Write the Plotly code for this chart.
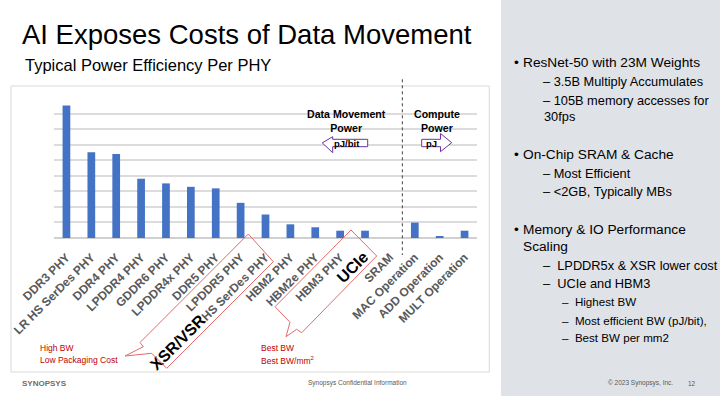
import plotly.graph_objects as go

# ---------------- data ----------------
categories = ["DDR3 PHY", "LR HS SerDes PHY", "DDR4 PHY", "LPDDR4 PHY", "GDDR6 PHY",
              "LPDDR4x PHY", "DDR5 PHY", "LPDDR5 PHY", "XSR/VSR HS SerDes PHY",
              "HBM2 PHY", "HBM2e PHY", "HBM3 PHY", "UCIe", "SRAM",
              "MAC Operation", "ADD Operation", "MULT Operation"]
values = [8.52, 5.51, 5.40, 3.81, 3.51, 3.29, 3.19, 2.26, 1.51,
          0.88, 0.69, 0.47, 0.47, 0.0, 0.99, 0.07, 0.47]
tick_labels = ["DDR3 PHY", "LR HS SerDes PHY", "DDR4 PHY", "LPDDR4 PHY", "GDDR6 PHY",
               "LPDDR4x PHY", "DDR5 PHY", "LPDDR5 PHY",
               "<span style='font-size:16px;color:#000000'>XSR/VSR</span>HS SerDes PHY",
               "HBM2 PHY", "HBM2e PHY", "HBM3 PHY",
               "<span style='font-size:16px;color:#000000'>UCIe</span>", "SRAM",
               "MAC Operation", "ADD Operation", "MULT Operation"]

bullets = [
    (1, "ResNet-50 with 23M Weights", 62.3),
    (2, "– 3.5B Multiply Accumulates", 81.7),
    (2, "– 105B memory accesses for", 100.0),
    (0, "30fps", 116.7),
    (1, "On-Chip SRAM & Cache", 154.3),
    (2, "– Most Efficient", 173.3),
    (2, "– <2GB, Typically MBs", 191.7),
    (1, "Memory & IO Performance", 229.3),
    (-1, "Scaling", 246.7),
    (2, "–  LPDDR5x & XSR lower cost", 265.0),
    (2, "–  UCIe and HBM3", 283.3),
    (3, "–  Highest BW", 301.7),
    (3, "–  Most efficient BW (pJ/bit),", 320.0),
    (3, "–  Best BW per mm2", 337.7),
]

# ---------------- geometry helpers ----------------
W, H = 720, 396
L, R, T, B = 54, 243, 98, 158
PW, PH = W - L - R, H - T - B
BASE = H - B


def px(x):
    return (x - L) / PW


def py(y):
    return (BASE - y) / PH


FONT = "Liberation Sans, Arial, sans-serif"

fig = go.Figure()
fig.add_trace(go.Bar(x=categories, y=values, marker_color="#4472c4",
                     marker_line_width=0, width=0.31, hoverinfo="x+y"))

fig.update_layout(
    width=W, height=H, margin=dict(l=L, r=R, t=T, b=B, pad=0, autoexpand=False),
    paper_bgcolor="white", plot_bgcolor="white", showlegend=False,
    font=dict(family=FONT),
    xaxis=dict(tickmode="array", tickvals=categories, ticktext=tick_labels,
               tickangle=-45, tickfont=dict(family=FONT, size=12, color="#595959",
                                            weight="bold"),
               showgrid=False, showline=False, ticks="", zeroline=False,
               automargin=False, ticklabelstandoff=9),
    yaxis=dict(range=[0, 9], dtick=1, showticklabels=False, showgrid=True,
               gridcolor="#dcdcdc", gridwidth=1.5, zeroline=True,
               zerolinecolor="#d0d0d0", zerolinewidth=1.5, ticks="",
               automargin=False),
)

shapes = []
# right gray panel
shapes.append(dict(type="rect", xref="paper", yref="paper", x0=px(501), x1=px(720),
                   y0=py(0), y1=py(396), fillcolor="#dfe2e7", line=dict(width=0),
                   layer="below"))
# chart box
shapes.append(dict(type="rect", xref="paper", yref="paper", x0=px(11), x1=px(489.3),
                   y0=py(86), y1=py(372), line=dict(color="#d9d9d9", width=1),
                   layer="below"))
# dashed divider
shapes.append(dict(type="line", xref="x", yref="paper", x0=13.5, x1=13.5,
                   y0=py(79.3), y1=py(255), line=dict(color="#404040", width=1, dash="dot")))


def path(points):
    s = "M " + " L ".join(f"{px(x):.5f},{py(y):.5f}" for x, y in points) + " Z"
    return s


# callouts
call1 = [(248.3, 234), (273.3, 261.7), (166.7, 368.3), (151.7, 353.3),
         (125, 356), (143.3, 346.7), (140, 342.5)]
call2 = [(351, 230), (376.7, 256), (301.7, 332.7), (296.7, 329.3),
         (286, 336.7), (290, 322.3), (275, 306.7)]
for c in (call1, call2):
    shapes.append(dict(type="path", xref="paper", yref="paper", path=path(c),
                       line=dict(color="#e46a6a", width=1), fillcolor="rgba(0,0,0,0)"))

# arrows
larrow = [(322.3, 142.9), (332.7, 136.7), (332.7, 139.3), (367.7, 139.3),
          (367.7, 146.7), (332.7, 146.7), (332.7, 152.7)]
rarrow = [(421.7, 139.3), (440.5, 139.3), (440.5, 133.5), (451.7, 142.7),
          (440.5, 151.7), (440.5, 146.7), (421.7, 146.7)]
for a in (larrow, rarrow):
    shapes.append(dict(type="path", xref="paper", yref="paper", path=path(a),
                       line=dict(color="#7030a0", width=1), fillcolor="white"))

fig.update_layout(shapes=shapes)


def ann(x, y, text, size, color="black", xanchor="left", yanchor="middle", **kw):
    fig.add_annotation(x=px(x), y=py(y), xref="paper", yref="paper", text=text,
                       showarrow=False, xanchor=xanchor, yanchor=yanchor,
                       borderpad=0, borderwidth=0,
                       font=dict(family=FONT, size=size, color=color), **kw)


# titles
ann(22, 34, "AI Exposes Costs of Data Movement", 27.5)
ann(25, 65, "Typical Power Efficiency Per PHY", 16.5)

# chart annotations
ann(346, 120.5, "<b>Data Movement</b><br><b>Power</b>", 10.6, xanchor="center")
ann(437.3, 120.5, "<b>Compute</b><br><b>Power</b>", 10.6, xanchor="center")
ann(347, 143, "<b>pJ/bit</b>", 9.5, xanchor="center")
ann(431, 143, "<b>pJ</b>", 9.5, xanchor="center")

RED = "#c00000"
ann(40, 348.3, "High BW", 8.5, RED)
ann(40, 360.3, "Low Packaging Cost", 8.5, RED)
ann(261, 348.3, "Best BW", 8.5, RED)
ann(261, 360.3, "Best BW/mm<sup>2</sup>", 8.5, RED)

# right panel bullets
for lvl, txt, y in bullets:
    if lvl == 1:
        ann(514, y, "•", 13.7)
        ann(523.3, y, txt, 13.7)
    elif lvl == -1:
        ann(523.3, y, txt, 13.7)
    elif lvl == 2:
        ann(543.3, y, txt, 12.8)
    elif lvl == 0:
        ann(544.3, y, txt, 12.8)
    else:
        ann(561.7, y, txt, 11.6)

# footer
ann(22, 383, "<b>SYNOPSYS</b>", 8, "#6d6d6d")
ann(357, 383, "Synopsys Confidential Information", 6.5, "#595959", xanchor="center")
ann(608, 383, "© 2023 Synopsys, Inc.", 6.5, "#595959")
ann(688, 383, "12", 6.5, "#595959")

fig.write_html("out.html", config={"displayModeBar": False},
               post_script="document.body.style.margin='0';document.body.style.padding='0';")
